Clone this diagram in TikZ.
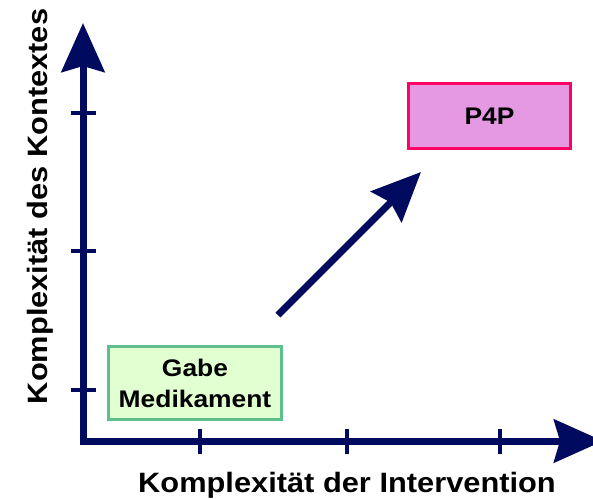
\documentclass[tikz,border=0pt]{standalone}
\usepackage{fontspec}
\setmainfont{Liberation Sans}[FakeStretch=1.1]
\usetikzlibrary{arrows.meta,positioning}

\definecolor{axisblue}{HTML}{000A5E}
\definecolor{gabeline}{HTML}{5FBF8C}
\definecolor{gabefill}{HTML}{E2FFD2}
\definecolor{ppline}{HTML}{FF0066}
\definecolor{ppfill}{HTML}{E699E3}

\begin{document}
\begin{tikzpicture}[
      x=1pt, y=-1pt,
      >={Stealth[length=49pt,width=43pt,inset=6pt]},
      every text node part/.style={align=center},
      axis/.style={
        draw=axisblue,
        line width=7pt
      },
      tick/.style={
        draw=axisblue,
        line width=4pt
      },
      axislabel/.style={
        font=\fontsize{28}{34}\selectfont\bfseries,
        inner sep=0pt
      },
      box/.style={
        rectangle,
        draw,
        line width=3pt,
        font=\fontsize{24}{31}\selectfont\bfseries
      }
    ]
    \useasboundingbox (0,0) rectangle (593,498);

    \coordinate (origin) at (83,441);
    \coordinate (ytip) at (83,23);
    \coordinate (xtip) at (603,441);
    \draw[axis, <->] (ytip) -- (origin) -- (xtip);

    % ticks
    \draw[tick] (200,428.5) -- (200,453.5);
    \draw[tick] (347,428.5) -- (347,453.5);
    \draw[tick] (500,428.5) -- (500,453.5);
    \draw[tick] (70.5,113) -- (95.5,113);
    \draw[tick] (70.5,251) -- (95.5,251);
    \draw[tick] (70.5,390) -- (95.5,390);

    \node[axislabel, anchor=base]
      (xlabel) at (347,492)
      {Komplexität der Intervention};
    \node[axislabel, rotate=90, anchor=base]
      (ylabel) at (47,206.5)
      {Komplexität des Kontextes};

    \node[box, draw=gabeline, fill=gabefill,
      minimum width=173pt, minimum height=73pt]
      (Gabe) at (195,383)
      {Gabe\\Medikament};

    \node[box, draw=ppline, fill=ppfill,
      minimum width=162pt, minimum height=65pt]
      (P4P) at (489.5,116)
      {P4P};

    \coordinate (start) at (278,315);
    \coordinate (goal) at (421,172);
    \draw[axis, ->] (start) -- (goal);
  \end{tikzpicture}
\end{document}
